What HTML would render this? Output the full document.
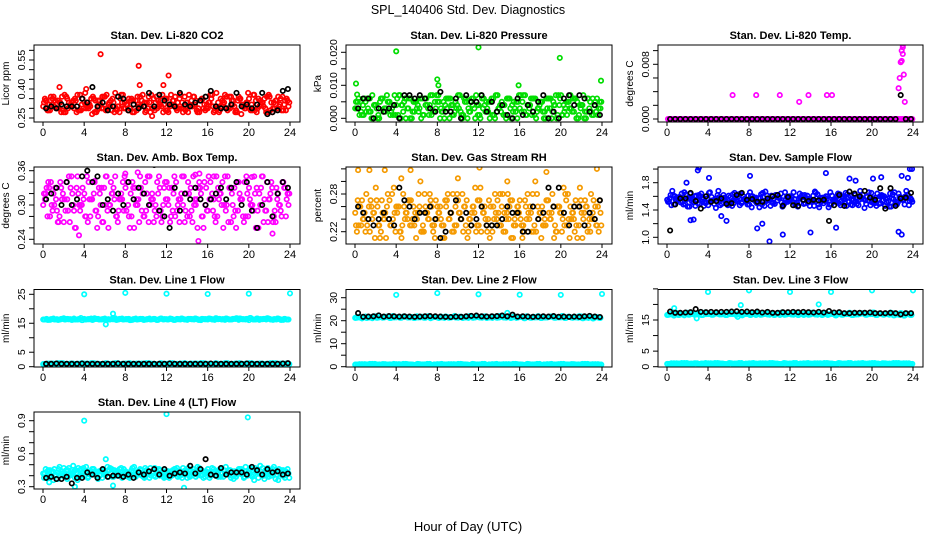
<!DOCTYPE html>
<html><head><meta charset="utf-8">
<style>
html,body{margin:0;padding:0;background:#fff;}
svg{display:block;font-family:"Liberation Sans",Arial,sans-serif;}
</style></head>
<body>
<svg id="chart" width="936" height="540" viewBox="0 0 936 540" xmlns="http://www.w3.org/2000/svg">
<rect x="0" y="0" width="936" height="540" fill="#fff"/>
<text x="468" y="14" text-anchor="middle" font-size="12.5">SPL_140406  Std. Dev. Diagnostics</text>
<text x="468" y="531" text-anchor="middle" font-size="13">Hour of Day (UTC)</text>
</svg>
<script>
// ---------- DATA ----------
const xTicks=[0,4,8,12,16,20,24];
// P1 CO2
const co2A=[0.31,0.34,0.29,0.36,0.30,0.33,0.28,0.35,0.32,0.30,0.37,0.29,0.33,0.31,0.35,0.28,0.34,0.30,0.36,0.32,0.29,0.38,0.31,0.33,0.30,0.35,0.28,0.34,0.31,0.37,0.29,0.33,0.30,0.36,0.32,0.28,0.35,0.31,0.34,0.29,0.37,0.30,0.33,0.31,0.36,0.28,0.34,0.32,0.30,0.35,0.29,0.33,0.31,0.37,0.30,0.34,0.28,0.36,0.32,0.30,0.35,0.29,0.34,0.31,0.33,0.28,0.36,0.30,0.34,0.32,0.29,0.35];
const co2B=[0.33,0.29,0.36,0.31,0.34,0.28,0.37,0.30,0.33,0.35,0.29,0.32,0.38,0.30,0.27,0.34,0.31,0.36,0.29,0.33,0.35,0.30,0.28,0.37,0.32,0.30,0.34,0.29,0.36,0.31,0.33,0.28,0.35,0.30,0.34,0.32,0.29,0.37,0.31,0.33,0.30,0.36,0.28,0.34,0.32,0.30,0.35,0.29,0.33,0.37,0.31,0.28,0.34,0.30,0.36,0.32,0.29,0.35,0.31,0.33,0.30,0.37,0.28,0.34,0.31,0.36,0.29,0.33,0.30,0.35,0.32,0.34];
const co2OutX=[5.6,9.3,12.2,10.6,9.4,1.6,4.2,11.7];
const co2OutY=[0.58,0.52,0.47,0.26,0.42,0.41,0.40,0.42];
const co2Blk=[0.30,0.31,0.30,0.32,0.31,0.31,0.31,0.35,0.33,0.41,0.31,0.33,0.29,0.31,0.36,0.35,0.29,0.32,0.30,0.31,0.38,0.31,0.37,0.34,0.32,0.31,0.38,0.32,0.31,0.33,0.34,0.36,0.39,0.31,0.30,0.30,0.32,0.38,0.31,0.32,0.30,0.32,0.38,0.27,0.28,0.29,0.39,0.40];
// P2 Pressure
const prA=[0.003,0.006,0.001,0.005,0.002,0.007,0.004,0.000,0.006,0.003,0.005,0.001,0.004,0.007,0.002,0.006,0.000,0.005,0.003,0.006,0.001,0.004,0.007,0.002,0.005,0.003,0.000,0.006,0.004,0.002,0.007,0.001,0.005,0.003,0.006,0.000,0.004,0.006,0.002,0.005,0.001,0.007,0.003,0.004,0.000,0.006,0.002,0.005,0.003,0.007,0.001,0.004,0.006,0.002,0.005,0.000,0.003,0.006,0.004,0.001,0.007,0.002,0.005,0.003,0.006,0.000,0.004,0.002,0.006,0.001,0.005,0.003];
const prB=[0.005,0.001,0.004,0.002,0.006,0.000,0.003,0.005,0.002,0.007,0.001,0.004,0.006,0.000,0.005,0.003,0.006,0.002,0.004,0.000,0.006,0.003,0.001,0.005,0.007,0.002,0.004,0.006,0.001,0.005,0.003,0.000,0.006,0.002,0.004,0.007,0.001,0.003,0.005,0.000,0.006,0.002,0.004,0.001,0.006,0.003,0.005,0.000,0.007,0.002,0.004,0.006,0.001,0.003,0.005,0.002,0.006,0.000,0.004,0.007,0.001,0.003,0.005,0.002,0.006,0.001,0.004,0.000,0.003,0.006,0.002,0.005];
const prOutX=[0.1,4.0,12.0,19.9,23.9,8.0,8.1,15.9,0.2];
const prOutY=[0.0105,0.0203,0.0215,0.0183,0.0114,0.0118,0.0100,0.0100,0.0072];
const prBlk=[0.003,0.006,0.006,0.000,0.003,0.002,0.003,0.004,0.000,0.007,0.007,0.006,0.007,0.006,0.003,0.002,0.008,0.002,0.002,0.006,0.000,0.007,0.005,0.005,0.007,0.002,0.005,0.002,0.004,0.001,0.000,0.006,0.001,0.004,0.002,0.005,0.007,0.000,0.002,0.000,0.006,0.007,0.004,0.007,0.006,0.002,0.004,0.001];
// P3 Li-820 Temp
const ltA=[0,0,0,0,0,0,0,0,0,0,0,0,0,0,0,0,0,0,0,0,0,0,0,0,0,0,0,0,0,0,0,0,0,0,0,0,0,0,0,0,0,0,0,0,0,0,0,0,0,0,0,0,0,0,0,0,0,0,0,0,0,0,0,0,0,0,0,0,0,0,0,0];
const ltOutX=[6.4,8.7,11.0,12.9,13.8,15.6,16.1,22.6,22.7,22.8,22.9,23.0,23.0,23.1,23.2,22.9,23.0];
const ltOutY=[0.0035,0.0035,0.0035,0.0025,0.0035,0.0035,0.0035,0.0045,0.0060,0.0083,0.0085,0.0095,0.0108,0.0065,0.0025,0.0100,0.0105];
const ltBlk=[0,0,0,0,0,0,0,0,0,0,0,0,0,0,0,0,0,0,0,0,0,0,0,0,0,0,0,0,0,0,0,0,0,0,0,0,0,0,0,0,0,0,0,0,0,0.0035,0,0];
// P4 Amb Box Temp
const btA=[0.30,0.33,0.28,0.32,0.29,0.34,0.27,0.31,0.33,0.29,0.35,0.30,0.32,0.27,0.31,0.34,0.28,0.33,0.30,0.26,0.32,0.35,0.29,0.31,0.33,0.28,0.34,0.30,0.27,0.32,0.29,0.35,0.31,0.28,0.33,0.30,0.34,0.27,0.32,0.29,0.31,0.35,0.28,0.33,0.30,0.26,0.32,0.34,0.29,0.31,0.28,0.33,0.30,0.35,0.27,0.32,0.29,0.34,0.31,0.28,0.33,0.30,0.26,0.32,0.35,0.29,0.31,0.27,0.33,0.30,0.34,0.31];
const btB=[0.32,0.28,0.34,0.30,0.27,0.33,0.31,0.29,0.35,0.26,0.32,0.30,0.28,0.34,0.31,0.29,0.33,0.27,0.35,0.30,0.32,0.28,0.31,0.34,0.29,0.26,0.33,0.31,0.35,0.28,0.32,0.30,0.27,0.34,0.29,0.33,0.31,0.28,0.35,0.30,0.32,0.27,0.34,0.29,0.31,0.33,0.28,0.30,0.35,0.32,0.27,0.31,0.34,0.29,0.33,0.30,0.26,0.32,0.28,0.35,0.31,0.29,0.33,0.30,0.27,0.34,0.32,0.28,0.31,0.29,0.33,0.32];
const btOutX=[3.5,8.0,9.2,14.8,15.2,15.1,20.3,22.3,5.0,16.6];
const btOutY=[0.247,0.355,0.357,0.353,0.355,0.237,0.349,0.250,0.342,0.350];
const btBlk=[0.31,0.32,0.33,0.30,0.34,0.30,0.31,0.35,0.36,0.34,0.35,0.30,0.31,0.29,0.32,0.30,0.34,0.31,0.33,0.32,0.30,0.37,0.29,0.28,0.26,0.33,0.29,0.32,0.31,0.33,0.31,0.30,0.31,0.32,0.33,0.31,0.33,0.34,0.30,0.34,0.29,0.26,0.30,0.34,0.28,0.32,0.34,0.33];
// P5 Gas Stream RH
const rhA=[0.25,0.23,0.27,0.22,0.26,0.24,0.29,0.23,0.25,0.21,0.27,0.24,0.26,0.22,0.28,0.25,0.23,0.26,0.24,0.30,0.22,0.25,0.27,0.23,0.26,0.24,0.21,0.28,0.25,0.23,0.27,0.24,0.26,0.22,0.25,0.29,0.23,0.26,0.24,0.27,0.22,0.25,0.23,0.28,0.24,0.26,0.21,0.25,0.27,0.23,0.24,0.26,0.22,0.28,0.25,0.23,0.27,0.24,0.21,0.26,0.25,0.23,0.28,0.24,0.22,0.26,0.25,0.27,0.23,0.24,0.26,0.22];
const rhB=[0.23,0.26,0.24,0.28,0.22,0.25,0.27,0.21,0.24,0.26,0.23,0.29,0.25,0.22,0.26,0.24,0.27,0.23,0.25,0.22,0.28,0.24,0.26,0.21,0.25,0.23,0.27,0.24,0.22,0.26,0.25,0.28,0.23,0.24,0.26,0.22,0.27,0.25,0.23,0.21,0.26,0.24,0.28,0.22,0.25,0.27,0.23,0.26,0.24,0.22,0.28,0.25,0.23,0.26,0.21,0.24,0.27,0.25,0.23,0.26,0.22,0.28,0.24,0.25,0.27,0.23,0.21,0.26,0.24,0.25,0.23,0.27];
const rhOutX=[0.3,1.4,2.9,5.4,12.1,18.6,23.5,4.5,10.0,14.8];
const rhOutY=[0.318,0.318,0.318,0.318,0.322,0.315,0.320,0.305,0.305,0.300];
const rhBlk=[0.26,0.25,0.24,0.23,0.24,0.25,0.24,0.23,0.29,0.27,0.26,0.24,0.25,0.25,0.26,0.24,0.21,0.22,0.25,0.27,0.24,0.25,0.23,0.24,0.26,0.23,0.23,0.23,0.24,0.26,0.25,0.25,0.22,0.22,0.26,0.24,0.25,0.29,0.26,0.29,0.25,0.23,0.26,0.26,0.23,0.25,0.24,0.27];
// P6 Sample Flow
const sfA=[1.55,1.62,1.48,1.58,1.51,1.66,1.45,1.57,1.60,1.50,1.64,1.53,1.47,1.59,1.56,1.68,1.49,1.54,1.61,1.46,1.57,1.63,1.52,1.55,1.48,1.60,1.58,1.44,1.65,1.53,1.56,1.50,1.62,1.57,1.47,1.59,1.54,1.66,1.51,1.58,1.49,1.61,1.55,1.46,1.63,1.52,1.57,1.60,1.48,1.56,1.64,1.53,1.50,1.59,1.55,1.62,1.47,1.57,1.54,1.66,1.51,1.58,1.49,1.61,1.56,1.45,1.63,1.52,1.59,1.55,1.68,1.53];
const sfB=[1.52,1.47,1.60,1.55,1.64,1.49,1.57,1.53,1.46,1.62,1.56,1.50,1.65,1.54,1.43,1.59,1.57,1.51,1.48,1.63,1.55,1.47,1.60,1.52,1.66,1.56,1.50,1.58,1.53,1.61,1.46,1.57,1.54,1.64,1.49,1.52,1.60,1.56,1.45,1.58,1.62,1.51,1.55,1.67,1.48,1.57,1.53,1.44,1.61,1.56,1.50,1.59,1.65,1.52,1.47,1.58,1.55,1.62,1.49,1.53,1.57,1.46,1.60,1.54,1.51,1.64,1.56,1.48,1.59,1.55,1.62,1.57];
const sfOutX=[3.1,3.0,4.1,8.1,10.0,11.3,14.0,15.5,16.5,17.8,18.4,20.1,20.9,22.6,22.9,23.5,23.7,23.9,1.9,2.6,5.3,5.8,8.8,9.3,2.3,22.9];
const sfOutY=[2.02,1.98,1.87,1.90,0.94,1.04,1.07,1.94,1.14,1.86,1.83,1.86,1.88,1.08,1.90,1.87,2.00,2.00,1.80,1.26,1.31,1.24,1.13,1.20,1.25,1.04];
const sfBlk=[1.10,1.48,1.57,1.57,1.65,1.53,1.42,1.60,1.52,1.53,1.57,1.49,1.50,1.62,1.65,1.55,1.56,1.52,1.52,1.57,1.60,1.62,1.46,1.59,1.47,1.46,1.55,1.53,1.55,1.54,1.55,1.24,1.47,1.62,1.46,1.67,1.64,1.60,1.68,1.58,1.55,1.72,1.42,1.72,1.46,1.57,1.58,1.65];
// shared low-value cyan band for line flows
const lowA=[0.9,1.1,0.8,1.0,1.2,0.9,1.0,0.8,1.1,0.9,1.0,1.2,0.8,1.0,0.9,1.1,1.0,0.8,1.2,0.9,1.0,1.1,0.8,0.9,1.0,1.2,0.9,1.1,0.8,1.0,0.9,1.1,1.0,0.8,1.2,0.9,1.0,1.1,0.8,0.9,1.0,1.2,0.9,1.1,0.8,1.0,0.9,1.1,1.0,0.8,1.2,0.9,1.0,1.1,0.8,0.9,1.0,1.2,0.9,1.1,0.8,1.0,0.9,1.1,1.0,0.8,1.2,0.9,1.0,1.1,0.8,0.9];
// P7 Line 1
const l1A=[16.3,16.5,16.2,16.6,16.4,16.3,16.7,16.5,16.4,16.6,16.3,16.8,16.5,16.4,16.6,16.7,16.5,16.3,16.6,16.4,16.5,16.7,16.3,16.6,16.4,16.5,16.2,16.6,16.4,16.5,16.3,16.6,16.4,16.2,16.5,16.3,16.4,16.6,16.2,16.5,16.3,16.4,16.2,16.5,16.3,16.4,16.1,16.4,16.3,16.5,16.2,16.4,16.3,16.2,16.4,16.3,16.5,16.2,16.4,16.3,16.1,16.4,16.3,16.2,16.4,16.3,16.5,16.2,16.3,16.4,16.2,16.3];
const l1OutX=[4.0,8.0,12.0,16.0,20.0,24.0,6.1,6.8];
const l1OutY=[25.0,25.5,25.2,25.1,25.2,25.3,14.6,18.3];
const l1Blk=[1.0,1.0,1.1,1.0,1.0,1.0,1.0,1.1,1.0,1.0,1.0,1.0,1.0,1.0,1.1,1.0,1.0,1.0,1.0,1.0,1.0,1.0,1.0,1.0,1.1,1.0,1.0,1.0,1.0,1.0,1.0,1.0,1.1,1.0,1.0,1.0,1.0,1.0,1.0,1.1,1.0,1.0,1.0,1.0,1.0,1.0,1.1,1.2];
// P8 Line 2
const l2A=[21.2,21.6,21.0,21.8,21.4,21.1,21.9,21.5,21.3,21.7,21.2,22.0,21.5,21.3,21.8,21.6,21.4,21.2,21.9,21.5,21.3,21.7,21.1,21.6,21.4,21.8,21.2,21.6,21.4,22.1,21.3,21.7,21.5,21.2,21.8,21.4,21.6,21.3,21.9,21.5,21.2,21.7,21.4,21.6,21.3,21.8,21.5,21.2,21.6,21.4,21.9,21.3,21.7,21.5,21.2,21.6,21.4,21.8,21.3,21.6,21.5,21.2,21.7,21.4,21.6,21.3,21.8,21.5,21.2,21.6,21.4,21.3];
const l2OutX=[4.0,8.0,12.0,16.0,20.0,24.0,14.8];
const l2OutY=[31.2,32.0,31.5,31.3,31.2,31.6,23.4];
const l2Blk=[23.3,21.7,21.8,21.9,22.3,21.8,22.0,21.9,21.8,21.9,21.8,21.7,21.8,21.9,22.0,21.9,21.8,21.7,21.6,21.8,21.7,21.9,22.1,22.2,21.9,21.8,21.9,22.0,22.2,21.9,22.6,21.8,21.9,21.8,21.7,21.8,21.9,21.8,22.0,21.7,21.8,21.7,21.8,21.7,21.9,22.1,21.8,21.6];
// P9 Line 3
const l3A=[16.6,17.0,16.4,17.2,16.8,16.5,17.3,16.9,16.7,17.1,16.6,17.4,16.9,16.7,17.2,17.0,16.8,16.6,17.3,16.9,16.7,17.1,16.5,17.0,16.8,17.2,16.6,17.0,16.8,17.3,16.7,17.1,16.9,16.6,17.2,16.8,17.0,16.7,17.3,16.9,16.6,17.1,16.8,17.0,16.7,17.2,16.9,16.6,17.0,16.8,17.2,16.7,17.1,16.9,16.6,17.0,16.8,17.1,16.7,17.0,16.9,16.6,17.1,16.8,17.0,16.7,17.2,16.9,16.6,17.0,16.8,16.7];
const l3OutX=[4.0,8.0,12.0,16.0,20.0,24.0,14.8,7.2,2.9,6.9,0.7];
const l3OutY=[24.0,24.5,24.0,24.0,24.5,24.5,20.0,19.8,15.5,16.0,18.8];
const l3Blk=[17.7,17.3,17.3,17.4,17.5,18.5,17.6,17.5,17.6,17.5,17.6,17.6,17.7,17.8,17.6,17.7,17.5,17.7,17.4,17.6,17.3,17.3,17.5,17.5,17.6,17.5,17.6,17.5,17.4,17.6,17.4,17.9,17.4,17.5,17.2,17.2,17.3,17.3,17.3,17.4,17.2,17.2,17.2,17.3,17.2,16.8,17.2,17.2];
// P10 Line 4 (LT)
const l4A=[0.42,0.38,0.45,0.36,0.43,0.40,0.47,0.37,0.41,0.44,0.36,0.46,0.40,0.38,0.44,0.41,0.37,0.45,0.42,0.39,0.46,0.40,0.43,0.38,0.44,0.41,0.47,0.39,0.43,0.40,0.45,0.38,0.42,0.46,0.40,0.44,0.39,0.43,0.41,0.47,0.40,0.44,0.38,0.45,0.42,0.48,0.40,0.43,0.46,0.41,0.44,0.39,0.47,0.42,0.45,0.40,0.43,0.46,0.41,0.48,0.43,0.39,0.45,0.42,0.47,0.40,0.44,0.46,0.41,0.43,0.45,0.42];
const l4B=[0.38,0.44,0.40,0.46,0.37,0.42,0.39,0.45,0.41,0.38,0.47,0.40,0.43,0.39,0.46,0.42,0.44,0.38,0.41,0.45,0.39,0.43,0.46,0.40,0.42,0.38,0.44,0.41,0.46,0.39,0.43,0.47,0.40,0.42,0.45,0.38,0.44,0.41,0.46,0.39,0.43,0.42,0.47,0.40,0.44,0.41,0.45,0.39,0.43,0.47,0.40,0.45,0.42,0.48,0.41,0.44,0.39,0.46,0.42,0.44,0.47,0.41,0.43,0.49,0.40,0.45,0.42,0.48,0.41,0.44,0.40,0.46];
const l4OutX=[4.0,12.0,19.9,6.1,13.7,3.1,6.8,0.6];
const l4OutY=[0.90,0.96,0.93,0.55,0.29,0.30,0.31,0.34];
const l4Blk=[0.38,0.39,0.37,0.37,0.39,0.33,0.38,0.38,0.43,0.41,0.38,0.46,0.39,0.40,0.40,0.39,0.41,0.38,0.43,0.41,0.44,0.46,0.41,0.46,0.40,0.42,0.43,0.42,0.49,0.42,0.46,0.55,0.41,0.40,0.47,0.41,0.43,0.43,0.43,0.41,0.48,0.45,0.41,0.46,0.43,0.44,0.41,0.42];

// ---------- LAYOUT ----------
const NS="http://www.w3.org/2000/svg";
const svg=document.getElementById('chart');
const colL=[34,346,658], colR=[300,612,923], colX0=[43,355,667], colX24=[290,602,913];
const rowT=[45,167,289.5,412], rowB=[122,244,367,489];
const CY="#00ffff", BK="#000";

// series entries: [array, x-offset (fraction of step), reversed?]
function quad(a,b){return [[a,0.05,false],[b,0.3,false],[a,0.55,true],[b,0.8,true]];}
const panels=[
 {name:"co2",title:"Stan. Dev. Li-820 CO2",ylab:"Licor ppm",c:0,r:0,vA:0.25,pA:118,vB:0.55,pB:60,ticks:[0.25,0.30,0.35,0.40,0.45,0.50,0.55,0.60],labels:[[0.25,"0.25"],[0.40,"0.40"],[0.55,"0.55"]],col:"#ff0000",
  series:quad(co2A,co2B),outX:co2OutX,outY:co2OutY,blk:co2Blk},
 {name:"pressure",title:"Stan. Dev. Li-820 Pressure",ylab:"kPa",c:1,r:0,vA:0,pA:118.3,vB:0.02,pB:52.3,ticks:[0,0.005,0.01,0.015,0.02],labels:[[0,"0.000"],[0.01,"0.010"],[0.02,"0.020"]],col:"#00dd00",
  series:quad(prA,prB),outX:prOutX,outY:prOutY,blk:prBlk},
 {name:"li820-temp",title:"Stan. Dev. Li-820 Temp.",ylab:"degrees C",c:2,r:0,vA:0,pA:119,vB:0.008,pB:64.3,ticks:[0,0.002,0.004,0.006,0.008,0.010],labels:[[0,"0.000"],[0.008,"0.008"]],col:"#ff00ff",
  series:[[ltA,0.3,false],[ltA,0.8,false]],outX:ltOutX,outY:ltOutY,blk:ltBlk},
 {name:"box-temp",title:"Stan. Dev. Amb. Box Temp.",ylab:"degrees C",c:0,r:1,vA:0.24,pA:239.3,vB:0.36,pB:170.7,ticks:[0.24,0.26,0.28,0.30,0.32,0.34,0.36],labels:[[0.24,"0.24"],[0.30,"0.30"],[0.36,"0.36"]],col:"#ff00ff",
  series:quad(btA,btB),outX:btOutX,outY:btOutY,blk:btBlk},
 {name:"gas-rh",title:"Stan. Dev. Gas Stream RH",ylab:"percent",c:1,r:1,vA:0.22,pA:231.7,vB:0.28,pB:194,ticks:[0.22,0.24,0.26,0.28,0.30,0.32],labels:[[0.22,"0.22"],[0.28,"0.28"]],col:"#f59a00",
  series:quad(rhA,rhB),outX:rhOutX,outY:rhOutY,blk:rhBlk},
 {name:"sample-flow",title:"Stan. Dev. Sample Flow",ylab:"ml/min",c:2,r:1,vA:1.0,pA:237.3,vB:1.8,pB:182.7,ticks:[1.0,1.2,1.4,1.6,1.8,2.0],labels:[[1.0,"1.0"],[1.4,"1.4"],[1.8,"1.8"]],col:"#0000ff",
  series:quad(sfA,sfB),outX:sfOutX,outY:sfOutY,blk:sfBlk},
 {name:"line1-flow",title:"Stan. Dev. Line 1 Flow",ylab:"ml/min",c:0,r:2,vA:0,pA:366.7,vB:25,pB:294.3,ticks:[0,5,10,15,20,25],labels:[[0,"0"],[5,"5"],[15,"15"],[25,"25"]],col:CY,
  series:quad(l1A,lowA),outX:l1OutX,outY:l1OutY,blk:l1Blk,extra:[[l1A,0.3,true],[lowA,0.05,true]]},
 {name:"line2-flow",title:"Stan. Dev. Line 2 Flow",ylab:"ml/min",c:1,r:2,vA:0,pA:366.7,vB:30,pB:297.7,ticks:[0,5,10,15,20,25,30],labels:[[0,"0"],[10,"10"],[20,"20"],[30,"30"]],col:CY,
  series:quad(l2A,lowA),outX:l2OutX,outY:l2OutY,blk:l2Blk,extra:[[l2A,0.3,true],[lowA,0.05,true]]},
 {name:"line3-flow",title:"Stan. Dev. Line 3 Flow",ylab:"ml/min",c:2,r:2,vA:0,pA:366.7,vB:15,pB:320,ticks:[0,5,10,15,20,25],labels:[[0,"0"],[5,"5"],[15,"15"]],col:CY,
  series:quad(l3A,lowA),outX:l3OutX,outY:l3OutY,blk:l3Blk,extra:[[l3A,0.3,true],[lowA,0.05,true]]},
 {name:"line4-flow",title:"Stan. Dev. Line 4 (LT) Flow",ylab:"ml/min",c:0,r:3,vA:0.3,pA:486.7,vB:0.9,pB:420.7,ticks:[0.3,0.4,0.5,0.6,0.7,0.8,0.9],labels:[[0.3,"0.3"],[0.6,"0.6"],[0.9,"0.9"]],col:CY,
  series:quad(l4A,l4B),outX:l4OutX,outY:l4OutY,blk:l4Blk}
];

function mk(tag,attrs,parent){const e=document.createElementNS(NS,tag);for(const k in attrs)e.setAttribute(k,attrs[k]);(parent||svg).appendChild(e);return e;}

panels.forEach(p=>{
  const L=colL[p.c],R=colR[p.c],T=rowT[p.r],B=rowB[p.r];
  const xs=h=>colX0[p.c]+(colX24[p.c]-colX0[p.c])*h/24;
  const ys=v=>p.pA+(v-p.vA)*(p.pB-p.pA)/(p.vB-p.vA);
  const g=mk('g',{});
  
  
  const t=mk('text',{x:(L+R)/2,y:T-6,'text-anchor':'middle','font-size':11,'font-weight':'bold'},g);
  t.textContent=p.title;
  
  
  const yl=mk('text',{x:0,y:0,transform:`translate(${L-25},${(T+B)/2}) rotate(-90)`,'text-anchor':'middle','font-size':10},g);
  yl.textContent=p.ylab;
  
  
  const cid='clip'+p.name;
  const cp=mk('clipPath',{id:cid},g);mk('rect',{x:L,y:T,width:R-L,height:B-T},cp);
  const pts=mk('g',{'clip-path':`url(#${cid})`,fill:'none','stroke-width':1.7},g);
  
  
  function dot(h,v,col,nm){const c=mk('circle',{cx:xs(h).toFixed(1),cy:ys(v).toFixed(1),r:2.2,stroke:col},pts);
    
    }
  const allS=p.series.concat(p.extra||[]);
  allS.forEach(s=>{const arr=s[0],off=s[1],rev=s[2],n=arr.length;
    arr.forEach((v,i)=>{const val=rev?arr[n-1-i]:v;dot((i+off)*24/n,val,p.col,p.name+'-point');});});
  p.outX.forEach((h,i)=>dot(h,p.outY[i],p.col,p.name+'-outlier'));
  p.blk.forEach((v,i)=>dot((i+0.6)*24/p.blk.length,v,BK,p.name+'-hourly-point'));
  const bx=mk('rect',{x:L,y:T,width:R-L,height:B-T,fill:'none',stroke:'#000','stroke-width':1},g);
  
  
  mk('line',{x1:xs(0),x2:xs(24),y1:B,y2:B,stroke:'#000'},g);
  xTicks.forEach(h=>{
    mk('line',{x1:xs(h),x2:xs(h),y1:B,y2:B+4,stroke:'#000'},g);
    const tx=mk('text',{x:xs(h),y:B+14,'text-anchor':'middle','font-size':11},g);
    tx.textContent=String(h);
    
    
  });
  p.ticks.forEach(v=>{const y=ys(v);if(y<T-1||y>B+1)return;mk('line',{x1:L-5,x2:L,y1:y,y2:y,stroke:'#000'},g);});
  p.labels.forEach(([v,s])=>{
    const ty=mk('text',{x:0,y:0,transform:`translate(${L-9},${ys(v)}) rotate(-90)`,'text-anchor':'middle','font-size':10.5},g);
    ty.textContent=s;
    
    
  });
});
</script>
</body></html>
